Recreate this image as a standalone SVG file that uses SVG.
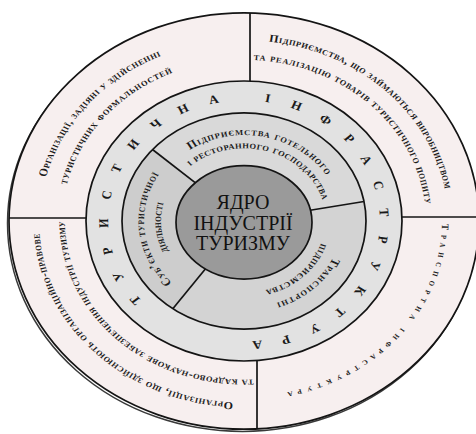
<svg xmlns="http://www.w3.org/2000/svg" width="476" height="434" viewBox="0 0 476 434">
  <style>
    .ln{stroke:#141414;stroke-width:1.7;vector-effect:non-scaling-stroke;}
    .q{font-family:"Liberation Serif","DejaVu Serif",serif;font-size:12px;font-weight:bold;font-variant:small-caps;fill:#1a1a1a;}
    .tq{font-family:"Liberation Serif","DejaVu Serif",serif;font-size:10px;font-weight:bold;font-variant:small-caps;fill:#1a1a1a;}
    .ring{font-family:"Liberation Serif","DejaVu Serif",serif;font-size:13.5px;font-weight:bold;fill:#1a1a1a;}
    .seg{font-family:"Liberation Serif","DejaVu Serif",serif;font-size:12.5px;font-weight:bold;font-variant:small-caps;fill:#1a1a1a;}
    .core{font-family:"Liberation Serif","DejaVu Serif",serif;font-size:20px;fill:#111;text-anchor:middle;}
  </style>
  <defs>
    <!-- text baselines, centre at origin, running clockwise -->
    <path id="p-tl1" d="M -197.9,-49.4 A 204 204 0 0 1 -83.0,-186.4"/>
    <path id="p-tl2" d="M -177.3,-40.9 A 182 182 0 0 1 -71.1,-167.5"/>
    <path id="p-tr1" d="M 24.9,-202.5 A 204 204 0 0 1 200.9,-35.4"/>
    <path id="p-tr2" d="M 9.5,-181.8 A 182 182 0 0 1 181.0,-19.0"/>
    <path id="p-br" d="M 198.0,3.5 A 198 198 0 0 1 42.9,193.3"/>
    <path id="p-bl1" d="M -10.7,204.7 A 205 205 0 0 1 -204.5,14.3"/>
    <path id="p-bl2" d="M 9.4,178.8 A 179 179 0 0 1 -179,0"/>
    <path id="p-ring" d="M 0,136 A 136 136 0 1 1 0,-136 A 136 136 0 1 1 0,136 A 136 136 0 0 1 -136,0"/>
    <path id="p-s1" d="M -54.2,-80.4 A 97 97 0 0 1 82.3,-51.4"/>
    <path id="p-s2" d="M -53.8,-61.9 A 82 82 0 0 1 78.4,-24.0"/>
    <path id="p-l1" d="M -71.9,69.5 A 100 100 0 0 1 -84.8,-53.0"/>
    <path id="p-l2" d="M -68.0,47.6 A 83 83 0 0 1 -75.2,-35.1"/>
    <path id="p-r1" d="M 88.8,41.4 A 98 98 0 0 1 31.9,92.7"/>
    <path id="p-r2" d="M 77.0,25.0 A 81 81 0 0 1 21.0,78.2"/>
  </defs>

  <rect width="476" height="434" fill="#ffffff"/>

  <g transform="translate(244 221) scale(1 0.886)">
    <!-- outer ring -->
    <g id="outer-ring">
      <circle cx="-1.5" cy="2.5" r="235" fill="none" stroke="#3a3a3a" stroke-width="1.5" vector-effect="non-scaling-stroke"/>
      <circle r="235" fill="#f7efef" class="ln"/>
    </g>
    <!-- infrastructure ring -->
    <g id="infrastructure-ring">
      <circle r="158" fill="#e2e2e2" class="ln"/>
    </g>
    <!-- three sectors of the inner ring -->
    <g id="sectors">
      <path id="sector-hotels" d="M 0,0 L -91.5,-80.7 A 122 122 0 0 1 120.0,-22.0 Z" fill="#d9d9d9"/>
      <path id="sector-transport" d="M 0,0 L 120.0,-22.0 A 122 122 0 0 1 -71.2,99.1 Z" fill="#d3d3d3"/>
      <path id="sector-subjects" d="M 0,0 L -71.2,99.1 A 122 122 0 0 1 -91.5,-80.7 Z" fill="#cdcdcd"/>
      <circle r="122" fill="none" class="ln"/>
    </g>
    <g id="dividers">
      <line class="ln" x1="-91.5" y1="-80.7" x2="-45" y2="-40"/>
      <line class="ln" x1="120.0" y1="-22.0" x2="60" y2="-11"/>
      <line class="ln" x1="-71.2" y1="99.1" x2="-35" y2="49"/>
      <line class="ln" x1="6" y1="-157.9" x2="6" y2="-234.9"/>
      <line class="ln" x1="13" y1="157.5" x2="13" y2="234.6"/>
      <line class="ln" x1="-158" y1="-3.4" x2="-235" y2="-3.4"/>
      <line class="ln" x1="158" y1="-4.5" x2="235" y2="-4.5"/>
    </g>
    <!-- core -->
    <g id="core">
      <ellipse cx="0" cy="1.5" rx="68" ry="64" fill="#9a9a9a" class="ln"/>
    </g>

    <!-- outer ring labels -->
    <g id="label-formalities">
      <text class="q"><textPath href="#p-tl1" textLength="185" lengthAdjust="spacing">Організації, задіяні у здійсненні</textPath></text>
      <text class="q"><textPath href="#p-tl2" textLength="171" lengthAdjust="spacing">туристичних формальностей</textPath></text>
    </g>
    <g id="label-producers">
      <text class="q"><textPath href="#p-tr1" textLength="259" lengthAdjust="spacing">Підприємства, що займаються виробництвом</textPath></text>
      <text class="q"><textPath href="#p-tr2" textLength="257" lengthAdjust="spacing">та реалізацію товарів туристичного попиту</textPath></text>
    </g>
    <g id="label-transport-infra">
      <text class="tq"><textPath href="#p-br" textLength="264" lengthAdjust="spacing">Транспортна інфраструктура</textPath></text>
    </g>
    <g id="label-support">
      <text class="q"><textPath href="#p-bl1" textLength="297" lengthAdjust="spacing">Організації, що здійснюють організаційно-правове</textPath></text>
      <text class="q"><textPath href="#p-bl2" textLength="290" lengthAdjust="spacing">та кадрово-наукове забезпечення індустрії туризму</textPath></text>
    </g>

    <!-- ring title -->
    <text class="ring"><textPath href="#p-ring" startOffset="115.4" textLength="730.8" lengthAdjust="spacing">ТУРИСТИЧНА ІНФРАСТРУКТУРА</textPath></text>

    <!-- sector labels -->
    <g id="label-hotels">
      <text class="seg"><textPath href="#p-s1" textLength="155" lengthAdjust="spacing">Підприємства готельного</textPath></text>
      <text class="seg"><textPath href="#p-s2" textLength="163" lengthAdjust="spacing">і ресторанного господарства</textPath></text>
    </g>
    <g id="label-subjects">
      <text class="seg"><textPath href="#p-l1" textLength="132" lengthAdjust="spacing">Суб’єкти туристичної</textPath></text>
      <text class="seg" text-anchor="middle"><textPath href="#p-l2" startOffset="50%">діяльності</textPath></text>
    </g>
    <g id="label-transport">
      <text class="seg"><textPath href="#p-r1" textLength="78" lengthAdjust="spacing">Транспортні</textPath></text>
      <text class="seg"><textPath href="#p-r2" textLength="80" lengthAdjust="spacing">підприємства</textPath></text>
    </g>
  </g>

  <!-- core title -->
  <g id="core-label">
    <text class="core" x="243" y="209">ЯДРО</text>
    <text class="core" x="243" y="229.5">ІНДУСТРІЇ</text>
    <text class="core" x="243" y="250">ТУРИЗМУ</text>
  </g>
</svg>
